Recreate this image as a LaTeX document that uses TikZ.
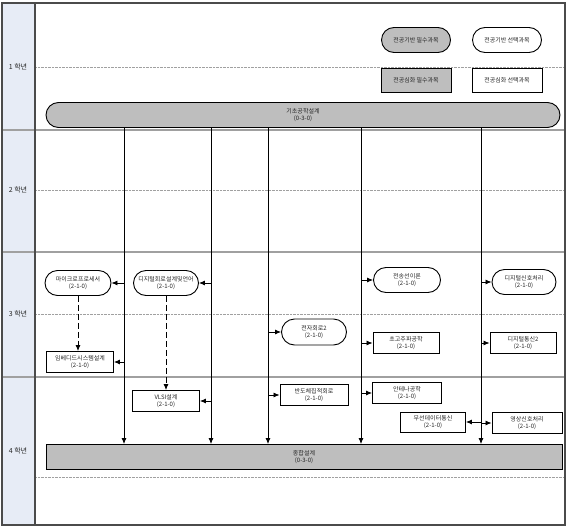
\documentclass[tikz,border=0pt]{standalone}
\usepackage{fontspec}
\newfontfamily\kr{Noto Sans CJK KR}
\usepackage{xcolor}
\usetikzlibrary{shapes,arrows,positioning,calc,arrows.meta}
\definecolor{barfill}{RGB}{190,190,190}
\definecolor{yearfill}{RGB}{231,236,246}
\definecolor{framegray}{RGB}{75,75,75}
\definecolor{rulegray}{RGB}{160,160,160}

\begin{document}
\begin{tikzpicture}[x=1pt, y=-1pt,
    txt/.style={font=\kr\fontsize{6}{7.5}\selectfont, text=black!85, align=center, inner sep=1pt},
    basecourse/.style={txt, draw=black, line width=0.9pt, rounded rectangle, minimum width=68pt, minimum height=25pt},
    deepcourse/.style={txt, draw=black, line width=0.9pt, rectangle, minimum width=67pt, minimum height=21pt},
    arr/.style={-{Latex[length=6pt,width=5pt]}, line width=0.8pt}]
    \useasboundingbox (0,0) rectangle (567,527);

    % frame and year column
    \fill [yearfill] (2,3) rectangle (35,525);
    \foreach \y in {130, 252, 377} {
        \draw [rulegray, line width=1.2pt] (2,\y) -- (565,\y);
    }
    \foreach \y in {67, 190, 314, 477} {
        \draw [rulegray, densely dotted] (35,\y) -- (565,\y);
    }
    \draw [framegray, line width=1.2pt] (35,3) -- (35,525);
    \draw [framegray, line width=1.5pt] (2,3) rectangle (565,525);
    \node [txt, font=\kr\fontsize{7}{8}\selectfont] (y1) at (18,67) {1 학년};
    \node [txt, font=\kr\fontsize{7}{8}\selectfont] (y2) at (18,190) {2 학년};
    \node [txt, font=\kr\fontsize{7}{8}\selectfont] (y3) at (18,314) {3 학년};
    \node [txt, font=\kr\fontsize{7}{8}\selectfont] (y4) at (18,451) {4 학년};

    % legend
    \node [basecourse, fill=barfill, minimum width=71pt] (lgA) at (416,40) {전공기반 필수과목};
    \node [basecourse, minimum width=71pt] (lgB) at (507,40) {전공기반 선택과목};
    \node [deepcourse, fill=barfill, minimum width=70pt, minimum height=24pt] (lgC) at (416,80) {전공심화 필수과목};
    \node [deepcourse, minimum width=70pt, minimum height=24pt] (lgD) at (507,80) {전공심화 선택과목};

    % first and last design courses
    \node [basecourse, fill=barfill, minimum width=516pt] (base) at (303,115) {기초공학설계\\(0-3-0)};
    \node [deepcourse, fill=barfill, minimum width=516pt, minimum height=25pt] (final) at (304,457) {종합설계\\(0-3-0)};

    % 3rd year
    \node [basecourse] (micro) at (78,283) {마이크로프로세서\\(2-1-0)};
    \node [basecourse, minimum width=67pt] (logic) at (166,283) {디지털회로설계및언어\\(2-1-0)};
    \node [deepcourse] (embed) at (80,362) {임베디드시스템설계\\(2-1-0)};
    \node [basecourse, minimum width=67pt, minimum height=26pt] (elec) at (314,332) {전자회로2\\(2-1-0)};
    \node [basecourse, minimum width=69pt] (tline) at (407,280) {전송선이론\\(2-1-0)};
    \node [basecourse, minimum width=66pt] (dsp) at (524,282) {디지털신호처리\\(2-1-0)};
    \node [deepcourse, minimum width=66pt] (micwave) at (406,343) {초고주파공학\\(2-1-0)};
    \node [deepcourse, minimum width=66pt] (dcom) at (523,343) {디지털통신2\\(2-1-0)};

    % 4th year
    \node [deepcourse] (vlsi) at (166,401) {VLSI설계\\(2-1-0)};
    \node [deepcourse, minimum width=68pt] (semi) at (314,395) {반도체집적회로\\(2-1-0)};
    \node [deepcourse, minimum width=69pt] (antenna) at (407,393) {안테나공학\\(2-1-0)};
    \node [deepcourse, minimum width=65pt, minimum height=20pt] (wless) at (433,422) {무선데이터통신\\(2-1-0)};
    \node [deepcourse, minimum width=70pt] (video) at (527,423) {영상신호처리\\(2-1-0)};

    % trunk lines
    \foreach \n/\x in {a/124, b/211, c/268, d/361, e/481} {
        \coordinate (l\n) at (\x,0);
        \draw [arr] (l\n |- base.south) -- (l\n |- final.north);
    }

    % branches
    \draw [arr] (la |- micro) -- (micro.east);
    \draw [arr] (la |- embed) -- (embed.east);
    \draw [arr] (lb |- logic) -- (logic.east);
    \draw [arr] (lb |- vlsi) -- (vlsi.east);
    \draw [arr] (lc |- elec) -- (elec.west);
    \draw [arr] (lc |- semi) -- (semi.west);
    \draw [arr] (ld |- tline) -- (tline.west);
    \draw [arr] (ld |- micwave) -- (micwave.west);
    \draw [arr] (ld |- antenna) -- (antenna.west);
    \draw [arr] (le |- dsp) -- (dsp.west);
    \draw [arr] (le |- dcom) -- (dcom.west);
    \draw [arr] (le |- wless) -- (wless.east);
    \draw [arr] (le |- video) -- (video.west);

    % prerequisites
    \draw [arr, dashed, dash pattern=on 6pt off 3pt] (micro.south) -- (micro.south |- embed.north);
    \draw [arr, dashed, dash pattern=on 6pt off 3pt] (logic.south) -- (logic.south |- vlsi.north);
\end{tikzpicture}
\end{document}
